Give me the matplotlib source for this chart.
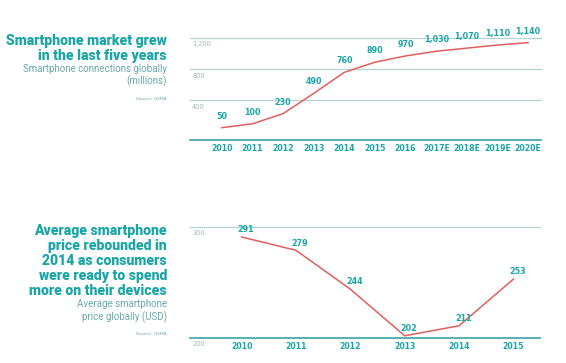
import matplotlib
matplotlib.use("Agg")
import matplotlib.pyplot as plt

# ---- data ----
years_top = ["2010", "2011", "2012", "2013", "2014", "2015", "2016",
             "2017E", "2018E", "2019E", "2020E"]
connections = [50, 100, 230, 490, 760, 890, 970, 1030, 1070, 1110, 1140]
conn_labels = ["50", "100", "230", "490", "760", "890", "970",
               "1,030", "1,070", "1,110", "1,140"]
top_grid = [400, 800, 1200]
top_grid_labels = ["400", "800", "1,200"]

years_bot = ["2010", "2011", "2012", "2013", "2014", "2015"]
price = [291, 279, 244, 202, 211, 253]
bot_grid = [300]
bot_grid_labels = ["300"]
bot_base_label = "200"

TEAL = "#1ba6a6"
SUB = "#6aa9ac"
GRID = "#b4d3d6"
BASE = "#4aa9ad"
RED = "#e0605c"
FONT = "DejaVu Sans"
TFONT = "Roboto"

W, H = 566, 363
fig = plt.figure(figsize=(W / 100, H / 100), dpi=100)
fig.patch.set_facecolor("white")


def px_axes(x0, y0, x1, y1):
    return fig.add_axes([x0 / W, 1 - y1 / H, (x1 - x0) / W, (y1 - y0) / H])


def ftext(x, y, s, **kw):
    fig.text(x / W, 1 - y / H, s, **kw)


# ---- top chart ----
ax = px_axes(190, 38, 541, 140)
xs = list(range(len(years_top)))
ax.plot(xs, connections, color=RED, lw=1.1, zorder=3)
ax.set_xlim(-1.04, len(years_top) - 1 + 0.42)
ax.set_ylim(-108, 1200)
for g, gl in zip(top_grid, top_grid_labels):
    ax.axhline(g, color=GRID, lw=0.9, zorder=1, clip_on=False)
    ax.annotate(gl, xy=(0, g), xycoords=("axes fraction", "data"),
                xytext=(1.5, -2.5), textcoords="offset points",
                ha="left", va="top", fontsize=4.8, color="#9fb9bb",
                family=FONT)
ax.axhline(-108, color=BASE, lw=1.3, zorder=2, clip_on=False)
for x, v, s in zip(xs, connections, conn_labels):
    ax.annotate(s, xy=(x, v), xytext=(0, 5), textcoords="offset points",
                ha="center", va="bottom", fontsize=5.8, fontweight="bold",
                color=TEAL, family=FONT, annotation_clip=False)
ax.set_xticks(xs)
ax.set_xticklabels(years_top, fontsize=5.6, fontweight="bold", color=TEAL,
                   family=FONT)
ax.tick_params(axis="x", length=0, pad=3)
ax.set_yticks([])
for sp in ax.spines.values():
    sp.set_visible(False)
ax.patch.set_alpha(0)

# ---- bottom chart ----
ax2 = px_axes(190, 227, 540, 338)
xb = list(range(len(years_bot)))
ax2.plot(xb, price, color=RED, lw=1.1, zorder=3)
ax2.set_xlim(-0.95, len(years_bot) - 1 + 0.49)
ax2.set_ylim(200, 300)
for g, gl in zip(bot_grid, bot_grid_labels):
    ax2.axhline(g, color=GRID, lw=0.9, zorder=1, clip_on=False)
    ax2.annotate(gl, xy=(0, g), xycoords=("axes fraction", "data"),
                 xytext=(1.5, -2.5), textcoords="offset points",
                 ha="left", va="top", fontsize=4.8, color="#9fb9bb",
                 family=FONT)
ax2.axhline(200, color=BASE, lw=1.3, zorder=2, clip_on=False)
ax2.annotate(bot_base_label, xy=(0, 200), xycoords=("axes fraction", "data"),
             xytext=(1.5, -2.5), textcoords="offset points",
             ha="left", va="top", fontsize=4.8, color="#9fb9bb", family=FONT)
for x, v in zip(xb, price):
    ax2.annotate(str(v), xy=(x, v), xytext=(3, 2), textcoords="offset points",
                 ha="center", va="bottom", fontsize=5.8, fontweight="bold",
                 color=TEAL, family=FONT, annotation_clip=False)
ax2.set_xticks(xb)
ax2.set_xticklabels(years_bot, fontsize=5.6, fontweight="bold", color=TEAL,
                    family=FONT)
ax2.tick_params(axis="x", length=0, pad=3)
ax2.set_yticks([])
for sp in ax2.spines.values():
    sp.set_visible(False)
ax2.patch.set_alpha(0)

# ---- left-side texts ----
RX = 167
tkw = dict(ha="right", va="baseline", fontsize=10.1, fontweight="black",
           color=TEAL, family=TFONT)
ftext(RX, 45, "Smartphone market grew", **tkw)
ftext(RX, 60, "in the last five years", **tkw)
skw = dict(ha="right", va="baseline", fontsize=7.0, color=SUB, family=TFONT)
ftext(RX, 72, "Smartphone connections globally", **skw)
ftext(RX, 84, "(millions)", **skw)
ftext(RX, 100, "Source: GSMA", ha="right", va="baseline", fontsize=3.2,
      color=SUB, family=FONT)

btitle = ["Average smartphone", "price rebounded in", "2014 as consumers",
          "were ready to spend", "more on their devices"]
for i, line in enumerate(btitle):
    ftext(RX, 235 + i * 15, line, **tkw)
ftext(RX, 307, "Average smartphone", **skw)
ftext(RX, 320, "price globally (USD)", **skw)
ftext(RX, 335, "Source: GSMA", ha="right", va="baseline", fontsize=3.2,
      color=SUB, family=FONT)

fig.savefig("out.png", dpi=100, facecolor="white")
